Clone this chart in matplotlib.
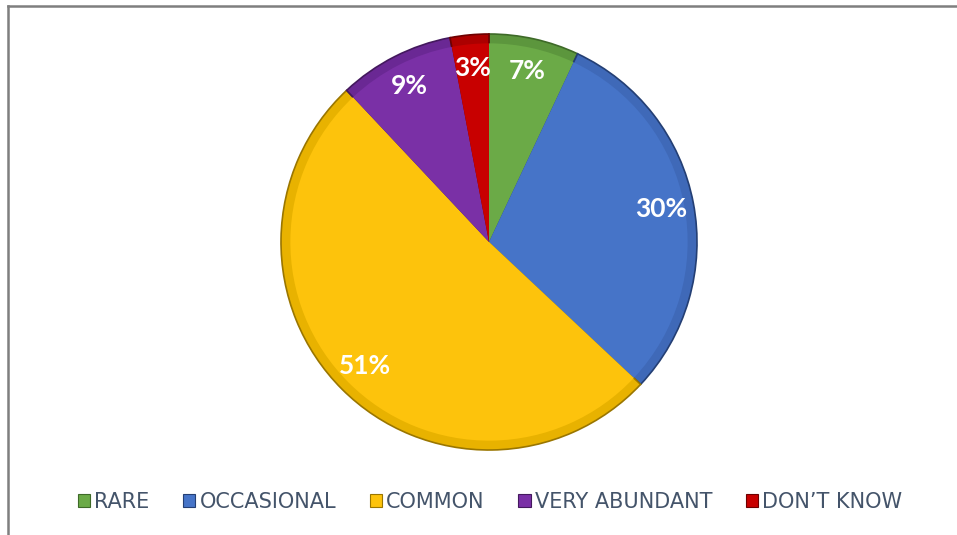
import matplotlib
matplotlib.use("Agg")
import matplotlib.pyplot as plt
from matplotlib.lines import Line2D
from matplotlib.patches import Rectangle

categories = ["RARE", "OCCASIONAL", "COMMON", "VERY ABUNDANT", "DON\u2019T KNOW"]
values = [7, 30, 51, 9, 3]
colors = ["#6BAA47", "#4674C8", "#FDC30C", "#7A30A6", "#C80000"]
rim_colors = ["#5C963D", "#3F69B8", "#E8B200", "#6A2894", "#AC0000"]
edge_colors = ["#3E6A28", "#243F74", "#9A7600", "#44195E", "#6E0000"]

W, H = 957, 535
fig = plt.figure(figsize=(W / 100, H / 100), dpi=100)
fig.patch.set_facecolor("white")

cx, cy, R = 489, 242, 208
ax = fig.add_axes([(cx - R) / W, (H - cy - R) / H, 2 * R / W, 2 * R / H])
# bevel rim (drawn underneath as full wedges)
ax.pie(values, colors=rim_colors, startangle=90, counterclock=False, radius=1.0,
       wedgeprops=dict(linewidth=1.2, edgecolor="none"))
rim = list(ax.patches)
for w, ec in zip(rim, edge_colors):
    w.set_edgecolor(ec)
wedges, texts, autotexts = ax.pie(
    values, colors=colors, startangle=90, counterclock=False, radius=0.955,
    autopct=lambda p: f"{p:.0f}%", pctdistance=0.88,
    wedgeprops=dict(linewidth=0),
    textprops=dict(color="white", fontsize=19, fontweight="bold", family=["Lato", "DejaVu Sans"]),
)
for t in autotexts:
    t.set_zorder(5)
ax.set_xlim(-1, 1)
ax.set_ylim(-1, 1)
ax.set_aspect("equal")
ax.axis("off")

handles = [Rectangle((0, 0), 1, 1, facecolor=c, edgecolor=e, linewidth=0.8) for c, e in zip(colors, edge_colors)]
leg = fig.legend(handles, categories, loc="center", bbox_to_anchor=(490 / W, 1 - 502 / H),
                 ncol=5, frameon=False, handlelength=0.6, handleheight=0.6, handletextpad=0.2,
                 columnspacing=1.6, prop=dict(family="DejaVu Sans", size=15))
for t in leg.get_texts():
    t.set_color("#44546A")

fig.add_artist(Line2D([8 / W, 8 / W], [0, 1 - 6 / H], transform=fig.transFigure, color="#7F7F7F", lw=1.8))
fig.add_artist(Line2D([8 / W, 1], [1 - 6 / H, 1 - 6 / H], transform=fig.transFigure, color="#7F7F7F", lw=1.8))

fig.savefig("out.png", dpi=100, facecolor="white")
